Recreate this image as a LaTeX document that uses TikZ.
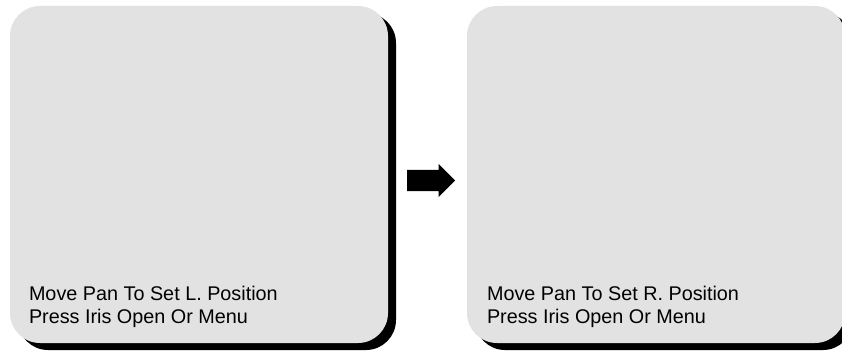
\documentclass[tikz,border=0pt]{standalone}
\usepackage{fontspec}
\setmainfont{Liberation Sans}
\usepackage{xcolor}
\usepackage{tikz}
\usetikzlibrary{positioning, shapes.arrows, shadows}

\definecolor{screengray}{RGB}{226,226,226}

\begin{document}
\begin{tikzpicture}[
  x=1pt, y=-1pt,
  every node/.style={font=\fontsize{19.8}{23}\selectfont},
  screen/.style={fill=screengray, rounded corners=30pt, minimum width=378pt, minimum height=337pt, inner sep=0pt,
    drop shadow={fill=black, opacity=1, shadow xshift=8pt, shadow yshift=-7pt}},
  msg/.style={align=left, inner sep=0pt},
  nextarrow/.style={single arrow, fill=black, inner xsep=0pt, inner ysep=10.5pt, minimum height=48pt, single arrow head extend=6pt}
]
\useasboundingbox (0,0) rectangle (842,352);

% Left screen
\node[screen] (leftscr) at (199,174.5) {};
\node[msg, above right=15pt and 19pt of leftscr.south west] (leftmsg)
   {Move Pan To Set L. Position\\Press Iris Open Or Menu};

% Arrow to the next screen
\node[nextarrow, anchor=tail] (next) at (407,180.5) {};

% Right screen
\node[screen] (rightscr) at (656,174.5) {};
\node[msg, above right=15pt and 20pt of rightscr.south west] (rightmsg)
   {Move Pan To Set R. Position\\Press Iris Open Or Menu};

\end{tikzpicture}
\end{document}
